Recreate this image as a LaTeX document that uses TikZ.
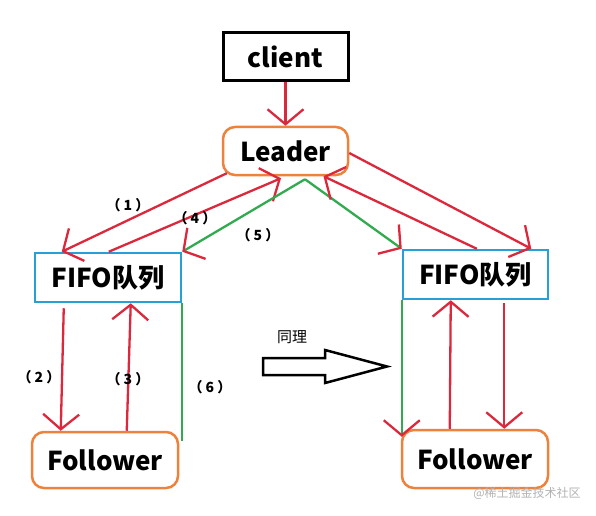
\documentclass[tikz,border=0pt]{standalone}
\usepackage{fontspec}
\usepackage{tikz}
\usetikzlibrary{arrows.meta,calc}
\setmainfont{Noto Sans CJK SC}

\definecolor{linkred}{RGB}{220,40,60}
\definecolor{roleorange}{RGB}{237,130,60}
\definecolor{queueblue}{RGB}{40,160,215}
\definecolor{syncgreen}{RGB}{50,170,80}

\tikzset{
  namefont/.style={font=\bfseries\fontsize{26}{30}\selectfont},
  plainbox/.style={draw=black,line width=3pt,namefont},
  rolebox/.style={draw=roleorange,line width=2.5pt,rounded corners=12pt,namefont},
  queuebox/.style={draw=queueblue,line width=2.5pt,namefont},
  redarrow/.style={draw=linkred,line width=2.3pt,-{Straight Barb[length=15pt,width=36pt]}},
  greenarrow/.style={draw=syncgreen,line width=2.3pt,-{Straight Barb[length=15pt,width=36pt,color=linkred]}},
  greenline/.style={draw=syncgreen,line width=2.3pt},
  steplabel/.style={font=\bfseries\fontsize{14}{16}\selectfont}
}

\begin{document}
\begin{tikzpicture}[x=1pt,y=1pt]
\useasboundingbox (0,0) rectangle (596,515);

\node[plainbox,minimum width=125pt,minimum height=48pt] (client) at (285.5,458) {client};
\node[rolebox,minimum width=125pt,minimum height=48pt] (leader) at (285.5,364) {Leader};
\node[queuebox,minimum width=146pt,minimum height=49pt] (fifoL) at (108,237.5) {FIFO队列};
\node[queuebox,minimum width=145pt,minimum height=49pt] (fifoR) at (475.5,240.5) {FIFO队列};
\node[rolebox,minimum width=146pt,minimum height=56pt] (folL) at (105,55) {Follower};
\node[rolebox,minimum width=146pt,minimum height=58pt] (folR) at (475,56) {Follower};

\coordinate (split) at ([xshift=19.5pt,yshift=-3pt]leader.south);
\coordinate (g6) at ($(fifoL.south east |- folL.north)+(0,-10)$);
\coordinate (gR) at ($(fifoR.south west |- folR.north)+(0,-8)$);

\draw[redarrow] (client.south) -- (leader.north);
\draw[redarrow] ([xshift=5pt,yshift=3pt]leader.south west) -- ([xshift=28pt]fifoL.north west);
\draw[redarrow] ([xshift=75pt]fifoL.north west) -- ([xshift=-4.5pt,yshift=-2pt]leader.south);
\draw[greenarrow] (split) -- (fifoL.north east);
\draw[greenarrow] (split) -- (fifoR.north west);
\draw[redarrow] ([xshift=75pt]fifoR.north west) -- ([xshift=38pt]leader.south);
\draw[redarrow] ([yshift=-2pt]leader.east) -- ([xshift=-18pt]fifoR.north east);

\draw[redarrow] ([xshift=30pt,yshift=-5pt]fifoL.south west) -- ([xshift=30pt]folL.north west);
\draw[redarrow] ([xshift=96pt]folL.north west) -- ([xshift=97pt]fifoL.south west);
\draw[greenline] (fifoL.south east) -- (g6);

\draw[greenarrow] (fifoR.south west) -- (gR);
\draw[redarrow] ([xshift=49pt]folR.north west) -- ([xshift=49pt]fifoR.south west);
\draw[redarrow] ([xshift=-45pt,yshift=-3pt]fifoR.south east) -- ([xshift=-45pt]folR.north east);

\node[steplabel] (s1) at (128,310) {（ 1 ）};
\node[steplabel] (s4) at (195,297) {（ 4 ）};
\node[steplabel] (s5) at (258,280) {（ 5 ）};
\node[steplabel] (s2) at (39,138) {（ 2 ）};
\node[steplabel] (s3) at (128,136) {（ 3 ）};
\node[steplabel] (s6) at (210,128) {（ 6 ）};

\node[font=\fontsize{15}{18}\selectfont] (same) at (292,178) {同理};
\draw[line width=2.5pt,line join=miter] (263,157) -- (325,157) -- (325,165) -- (387,148.5)
  -- (325,132) -- (325,140) -- (263,140) -- cycle;

\node[font=\fontsize{12}{14}\selectfont,text=black!30] (mark) at (527,22) {@稀土掘金技术社区};
\end{tikzpicture}
\end{document}
